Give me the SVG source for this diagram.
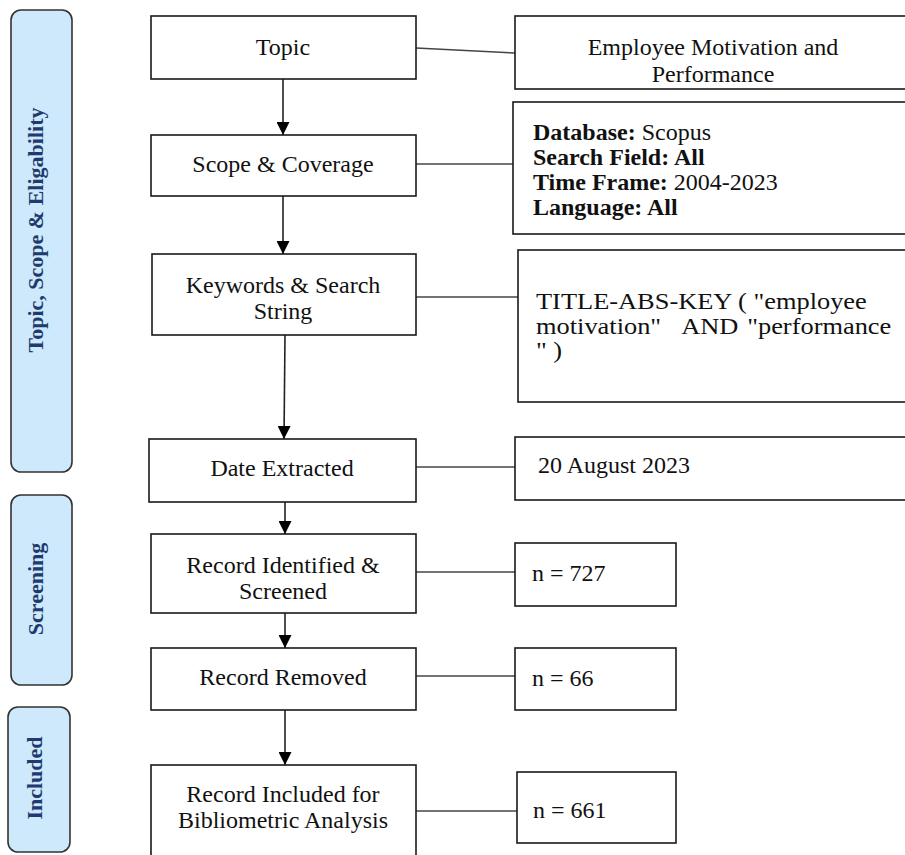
<svg xmlns="http://www.w3.org/2000/svg" width="905" height="855" viewBox="0 0 905 855">
<style>
.box{fill:#fff;stroke:#1a1a1a;stroke-width:1.6}
.side{fill:#CDE9FB;stroke:#333;stroke-width:1.6}
.t{font-family:"Liberation Serif","Times New Roman",serif;font-size:24px;fill:#111}
.c{text-anchor:middle}
.b{font-weight:bold}
.st{font-family:"Liberation Serif","Times New Roman",serif;font-size:22px;font-weight:bold;fill:#1F3A6E;text-anchor:middle}
.ln{stroke:#444;stroke-width:1.5;fill:none}
.ar{stroke:#222;stroke-width:1.6;fill:none;marker-end:url(#ah)}
</style>
<defs>
<marker id="ah" markerUnits="userSpaceOnUse" markerWidth="13" markerHeight="13" refX="13" refY="6.5" orient="auto">
<path d="M0,0 L13,6.5 L0,13 z" fill="#000"/>
</marker>
</defs>

<g id="side-topic"><rect class="side" x="11" y="10" width="61" height="462" rx="10"/><text class="st" transform="translate(43,230) rotate(-90)">Topic, Scope &amp; Eligability</text></g>
<g id="side-screening"><rect class="side" x="11" y="495" width="61" height="190" rx="10"/><text class="st" transform="translate(43,589) rotate(-90)">Screening</text></g>
<g id="side-included"><rect class="side" x="8" y="707" width="62" height="145" rx="10"/><text class="st" transform="translate(42,778) rotate(-90)">Included</text></g>

<g id="connectors">
<line class="ln" x1="416" y1="48" x2="515" y2="53"/>
<line class="ln" x1="416" y1="164" x2="513" y2="164"/>
<line class="ln" x1="416" y1="297" x2="518" y2="297"/>
<line class="ln" x1="416" y1="467" x2="515" y2="467"/>
<line class="ln" x1="416" y1="572" x2="515" y2="572"/>
<line class="ln" x1="416" y1="676" x2="515" y2="676"/>
<line class="ln" x1="416" y1="811" x2="517" y2="811"/>
<line class="ar" x1="283" y1="79" x2="283" y2="135"/>
<line class="ar" x1="283" y1="196" x2="283" y2="254"/>
<line class="ar" x1="285" y1="335" x2="284" y2="439"/>
<line class="ar" x1="285" y1="502" x2="285" y2="534"/>
<line class="ar" x1="285" y1="613" x2="285" y2="648"/>
<line class="ar" x1="285" y1="710" x2="285" y2="765"/>
</g>

<g id="topic"><rect class="box" x="151" y="16" width="265" height="63"/><text class="t c" x="283" y="55">Topic</text></g>
<g id="scope"><rect class="box" x="151" y="135" width="265" height="61"/><text class="t c" x="283" y="172">Scope &amp; Coverage</text></g>
<g id="keywords"><rect class="box" x="152" y="254" width="264" height="81"/><text class="t c" x="283" y="293">Keywords &amp; Search</text><text class="t c" x="283" y="319">String</text></g>
<g id="date"><rect class="box" x="149" y="439" width="267" height="63"/><text class="t c" x="282" y="476">Date Extracted</text></g>
<g id="identified"><rect class="box" x="151" y="534" width="265" height="79"/><text class="t c" x="283" y="573">Record Identified &amp;</text><text class="t c" x="283" y="599">Screened</text></g>
<g id="removed"><rect class="box" x="151" y="648" width="265" height="62"/><text class="t c" x="283" y="685">Record Removed</text></g>
<g id="included"><rect class="box" x="151" y="765" width="265" height="100"/><text class="t c" x="283" y="802">Record Included for</text><text class="t c" x="283" y="828">Bibliometric Analysis</text></g>

<g id="topic-value"><rect class="box" x="515" y="16" width="400" height="73"/><text class="t c" x="713" y="55">Employee Motivation and</text><text class="t c" x="713" y="82">Performance</text></g>
<g id="scope-value"><rect class="box" x="513" y="102" width="402" height="132"/>
<text class="t" x="533" y="140"><tspan class="b">Database:</tspan> Scopus</text>
<text class="t" x="533" y="165"><tspan class="b">Search Field: All</tspan></text>
<text class="t" x="533" y="190"><tspan class="b">Time Frame:</tspan> 2004-2023</text>
<text class="t" x="533" y="215"><tspan class="b">Language: All</tspan></text>
</g>
<g id="search-string"><rect class="box" x="518" y="250" width="397" height="152"/>
<g transform="translate(536,0) scale(1.1,1)">
<text class="t" x="0" y="309">TITLE-ABS-KEY ( "employee</text>
<text class="t" x="0" y="334">motivation"</text>
<text class="t" x="132" y="334">AND</text>
<text class="t" x="323" y="334" text-anchor="end">"performance</text>
<text class="t" x="0" y="358">" )</text>
</g>
</g>
<g id="date-value"><rect class="box" x="515" y="437" width="400" height="63"/><text class="t" x="538" y="473">20 August 2023</text></g>
<g id="n727"><rect class="box" x="515" y="543" width="161" height="63"/><text class="t" x="532" y="581">n = 727</text></g>
<g id="n66"><rect class="box" x="515" y="648" width="161" height="62"/><text class="t" x="532" y="686">n = 66</text></g>
<g id="n661"><rect class="box" x="517" y="772" width="159" height="71"/><text class="t" x="533" y="818">n = 661</text></g>
</svg>
